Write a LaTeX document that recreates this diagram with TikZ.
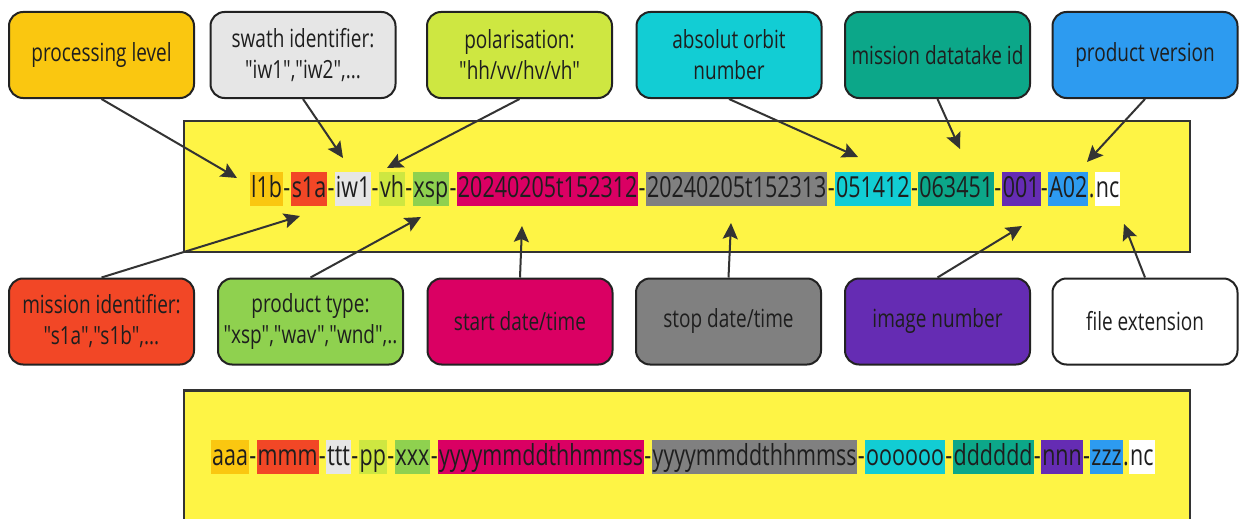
\documentclass[tikz,border=0pt]{standalone}
\usepackage{fontspec}
\setmainfont{Open Sans}
\newfontfamily\labfont{Open Sans}[FakeStretch=0.76]
\newfontfamily\fnfont{Open Sans}[FakeStretch=0.74]
\usetikzlibrary{arrows.meta}
\definecolor{cPL}{HTML}{FAC710}
\definecolor{cSW}{HTML}{E6E6E6}
\definecolor{cPO}{HTML}{CEE741}
\definecolor{cOR}{HTML}{12CDD4}
\definecolor{cDT}{HTML}{0CA789}
\definecolor{cPV}{HTML}{2D9BF0}
\definecolor{cMI}{HTML}{F24726}
\definecolor{cPT}{HTML}{8FD14F}
\definecolor{cST}{HTML}{DA0063}
\definecolor{cSP}{HTML}{808080}
\definecolor{cIN}{HTML}{652CB3}
\definecolor{cFE}{HTML}{FFFFFF}
\definecolor{cYel}{HTML}{FEF445}
\definecolor{cText}{HTML}{1E1E1E}
\definecolor{cBorder}{HTML}{222222}
\definecolor{cArrow}{HTML}{333333}
\begin{document}
\begin{tikzpicture}[x=1pt,y=-1pt,
  lab/.style={draw=cBorder, line width=2pt, rounded corners=14pt, minimum width=185pt, minimum height=86pt, inner sep=2pt, align=center, text=cText, font=\labfont\fontsize{25}{31}\selectfont},
  mainbox/.style={draw=cArrow, line width=2.5pt, fill=cYel, minimum width=1006pt, inner sep=0pt},
  seg/.style={inner xsep=1pt, inner ysep=0pt, text height=25pt, text depth=9pt, text=cText, font=\fnfont\fontsize{29}{34}\selectfont, anchor=west},
  hy/.style={seg, inner xsep=0pt},
  arr/.style={draw=cArrow, line width=2pt, -{Stealth[length=16pt,width=15pt,inset=3pt]}}
]
\useasboundingbox (0,0) rectangle (1239,519);
\clip (0,0) rectangle (1239,519);
\fill[white] (0,0) rectangle (1239,519);

% main boxes
\node[mainbox, minimum height=131pt] (mb1) at (687,186.5) {};
\node[mainbox, minimum height=150pt, anchor=north] (mb2) at (687,389) {};

% label boxes top
\node[lab, fill=cPL] (pl) at (101.5,55) {processing level};
\node[lab, fill=cSW] (sw) at (303,55) {swath identifier:\\"iw1","iw2",...};
\node[lab, fill=cPO] (po) at (519.5,55) {polarisation:\\"hh/vv/hv/vh"};
\node[lab, fill=cOR] (or) at (729,55) {absolut orbit\\number};
\node[lab, fill=cDT] (dt) at (937.5,55) {mission datatake id};
\node[lab, fill=cPV] (pv) at (1145,55) {product version};
% label boxes bottom
\node[lab, fill=cMI] (mi) at (101.5,321.5) {mission identifier:\\"s1a","s1b",...};
\node[lab, fill=cPT] (pt) at (310.5,321.5) {product type:\\"xsp","wav","wnd",..};
\node[lab, fill=cST] (st) at (520,321.5) {start date/time};
\node[lab, fill=cSP] (sp) at (728.5,321.5) {stop date/time};
\node[lab, fill=cIN] (in) at (937.5,321.5) {image number};
\node[lab, fill=cFE] (fe) at (1145,321.5) {file extension};

% filename row 1
\node[seg, fill=cPL] (a1) at (250,189) {l1b};
\node[hy] (h1) at (a1.east) {-};
\node[seg, fill=cMI] (a2) at (h1.east) {s1a};
\node[hy] (h2) at (a2.east) {-};
\node[seg, fill=cSW] (a3) at (h2.east) {iw1};
\node[hy] (h3) at (a3.east) {-};
\node[seg, fill=cPO] (a4) at (h3.east) {vh};
\node[hy] (h4) at (a4.east) {-};
\node[seg, fill=cPT] (a5) at (h4.east) {xsp};
\node[hy] (h5) at (a5.east) {-};
\node[seg, fill=cST] (a6) at (h5.east) {20240205t152312};
\node[hy] (h6) at (a6.east) {-};
\node[seg, fill=cSP] (a7) at (h6.east) {20240205t152313};
\node[hy] (h7) at (a7.east) {-};
\node[seg, fill=cOR] (a8) at (h7.east) {051412};
\node[hy] (h8) at (a8.east) {-};
\node[seg, fill=cDT] (a9) at (h8.east) {063451};
\node[hy] (h9) at (a9.east) {-};
\node[seg, fill=cIN] (a10) at (h9.east) {001};
\node[hy] (h10) at (a10.east) {-};
\node[seg, fill=cPV] (a11) at (h10.east) {A02};
\node[hy] (h11) at (a11.east) {.};
\node[seg, fill=cFE] (a12) at (h11.east) {nc};

% filename row 2
\node[seg, fill=cPL] (b1) at (211,457) {aaa};
\node[hy] (k1) at (b1.east) {-};
\node[seg, fill=cMI] (b2) at (k1.east) {mmm};
\node[hy] (k2) at (b2.east) {-};
\node[seg, fill=cSW] (b3) at (k2.east) {ttt};
\node[hy] (k3) at (b3.east) {-};
\node[seg, fill=cPO] (b4) at (k3.east) {pp};
\node[hy] (k4) at (b4.east) {-};
\node[seg, fill=cPT] (b5) at (k4.east) {xxx};
\node[hy] (k5) at (b5.east) {-};
\node[seg, fill=cST] (b6) at (k5.east) {yyyymmddthhmmss};
\node[hy] (k6) at (b6.east) {-};
\node[seg, fill=cSP] (b7) at (k6.east) {yyyymmddthhmmss};
\node[hy] (k7) at (b7.east) {-};
\node[seg, fill=cOR] (b8) at (k7.east) {oooooo};
\node[hy] (k8) at (b8.east) {-};
\node[seg, fill=cDT] (b9) at (k8.east) {dddddd};
\node[hy] (k9) at (b9.east) {-};
\node[seg, fill=cIN] (b10) at (k9.east) {nnn};
\node[hy] (k10) at (b10.east) {-};
\node[seg, fill=cPV] (b11) at (k10.east) {zzz};
\node[hy] (k11) at (b11.east) {.};
\node[seg, fill=cFE] (b12) at (k11.east) {nc};

% arrow targets
\coordinate (tPL) at (237,178);
\coordinate (tSW) at (343,158);
\coordinate (tPO) at (387,168);
\coordinate (tOR) at (858,157);
\coordinate (tDT) at (960,149);
\coordinate (tPV) at (1087,162);
\coordinate (tMI) at (300,216);
\coordinate (tPT) at (421,217);
\coordinate (tST) at (522,226);
\coordinate (tSP) at (731,223);
\coordinate (tIN) at (1022,226);
\coordinate (tFE) at (1124,224);

\draw[arr] (pl.south) -- (tPL);
\draw[arr] (sw.south) -- (tSW);
\draw[arr] (po.south) -- (tPO);
\draw[arr] (or.south) -- (tOR);
\draw[arr] (dt.south) -- (tDT);
\draw[arr] (pv.south) -- (tPV);
\draw[arr] (mi.north) -- (tMI);
\draw[arr] (pt.north) -- (tPT);
\draw[arr] (st.north) -- (tST);
\draw[arr] (sp.north) -- (tSP);
\draw[arr] (in.north) -- (tIN);
\draw[arr] (fe.north) -- (tFE);
\end{tikzpicture}
\end{document}
